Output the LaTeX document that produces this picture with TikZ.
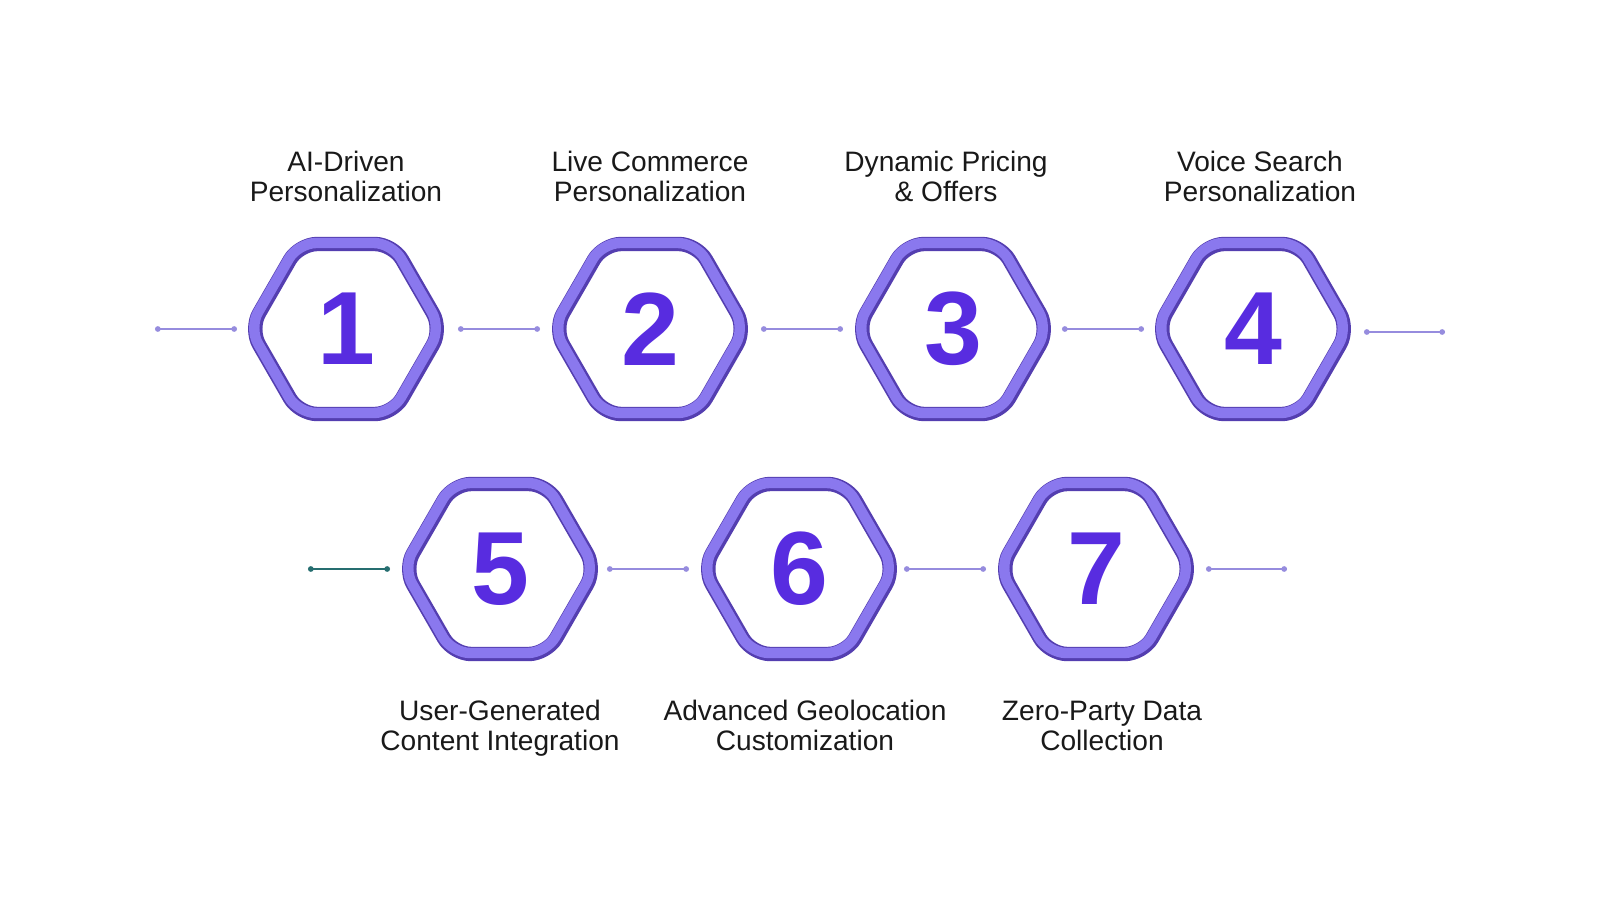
\documentclass[tikz,border=0pt]{standalone}
\usepackage{fontspec}
\setmainfont{Liberation Sans}
\usetikzlibrary{arrows.meta}

\definecolor{hexlight}{RGB}{138,120,238}
\definecolor{hexdark}{RGB}{84,62,176}
\definecolor{numviolet}{RGB}{88,44,224}
\definecolor{linelav}{RGB}{150,140,222}
\definecolor{lineteal}{RGB}{38,110,112}

\begin{document}
\begin{tikzpicture}[
    x=0.025cm, y=-0.025cm,
    num/.style={font=\fontsize{74}{74}\selectfont\bfseries, text=numviolet, inner sep=0pt},
    hexpath/.style={insert path={+(-96,0) -- +(-47,-85) -- +(47,-85) -- +(96,0) -- +(47,85) -- +(-47,85) -- cycle}},
    ringdark/.style={draw=hexdark, line width=0.36cm, rounded corners=0.45cm, line join=round},
    ringlight/.style={draw=hexlight, line width=0.26cm, rounded corners=0.45cm, line join=round},
    caption/.style={align=center, anchor=base, font=\fontsize{20}{21.3}\selectfont, text=black!90},
    link/.style={draw=linelav, line width=0.9pt, {Circle[length=4pt]}-{Circle[length=4pt]}}
]
\fill[white] (0,0) rectangle (1600,900);
\useasboundingbox (0,0) rectangle (1600,900);

% numbered hexagons
\foreach \n/\x/\y in {1/346/329, 2/650/329, 3/953/329, 4/1253/329, 5/500/569, 6/799/569, 7/1096/569} {
  \node[num] (h\n) at (\x,\y) {\n};
  \draw[ringdark] (h\n.center) [hexpath];
  \draw[ringlight] ([shift={(-1,-1)}]h\n.center) [hexpath];
}

% captions
\node[caption] (t1) at (346,201) {AI-Driven\\Personalization};
\node[caption] (t2) at (650,201) {Live Commerce\\Personalization};
\node[caption] (t3) at (946,201) {Dynamic Pricing\\\& Offers};
\node[caption] (t4) at (1260,201) {Voice Search\\Personalization};
\node[caption] (t5) at (500,750) {User-Generated\\Content Integration};
\node[caption] (t6) at (805,750) {Advanced Geolocation\\Customization};
\node[caption] (t7) at (1102,750) {Zero-Party Data\\Collection};

% small links
\foreach \a/\b/\y [count=\i] in {155/237/329, 458/540/329, 761/843/329, 1062/1144/329, 1364/1445/332, 607/689/569, 904/986/569, 1206/1287/569} {
  \coordinate (la\i) at (\a,\y);
  \coordinate (lb\i) at (\b,\y);
  \draw[link] (la\i) -- (lb\i);
}
\coordinate (la0) at (308,569);
\coordinate (lb0) at (390,569);
\draw[link, draw=lineteal] (la0) -- (lb0);
\end{tikzpicture}
\end{document}
